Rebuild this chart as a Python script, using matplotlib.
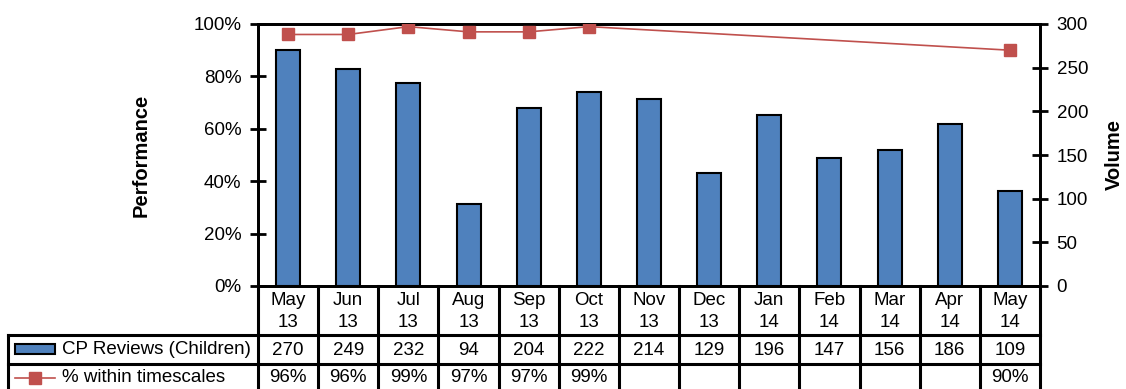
import matplotlib
matplotlib.use("Agg")
import matplotlib.pyplot as plt
from matplotlib.patches import Rectangle
from matplotlib.lines import Line2D
import numpy as np

plt.rcParams['font.family'] = ['Liberation Sans', 'DejaVu Sans']

months = ['May\n13', 'Jun\n13', 'Jul\n13', 'Aug\n13', 'Sep\n13', 'Oct\n13', 'Nov\n13',
          'Dec\n13', 'Jan\n14', 'Feb\n14', 'Mar\n14', 'Apr\n14', 'May\n14']
volume = [270, 249, 232, 94, 204, 222, 214, 129, 196, 147, 156, 186, 109]
pct = [96, 96, 99, 97, 97, 99, None, None, None, None, None, None, 90]

bar_name = 'CP Reviews (Children)'
line_name = '% within timescales'
bar_color = '#4F81BD'
line_color = '#C0504D'
fs = 13.5

W, H = 1126, 389
fig = plt.figure(figsize=(W / 100, H / 100), dpi=100)
L, R, T, B = 258, 1040, 24, 286
ax = fig.add_axes([L / W, 1 - B / H, (R - L) / W, (B - T) / H])
ax2 = ax.twinx()

x = np.arange(len(months))
ax2.bar(x, volume, width=0.4, color=bar_color, edgecolor='black', linewidth=1.5, zorder=2)
ax2.set_ylim(0, 300)
ax2.set_yticks(range(0, 301, 50))

# line drawn on top
ax.set_zorder(ax2.get_zorder() + 1)
ax.patch.set_visible(False)
px = [i for i, v in enumerate(pct) if v is not None]
py = [v for v in pct if v is not None]
ax.plot(px, py, color=line_color, linewidth=1.2, marker='s', markersize=8.5, zorder=3)
ax.set_ylim(0, 100)
ax.set_xlim(-0.5, len(months) - 0.5)
ax.set_yticks(range(0, 101, 20))
ax.set_yticklabels([f'{v}%' for v in range(0, 101, 20)])
ax.set_xticks([])
ax2.set_xticks([])

for a in (ax, ax2):
    for s in a.spines.values():
        s.set_linewidth(2)
    a.tick_params(axis='y', direction='inout', length=12, width=2, labelsize=fs, pad=6)

ax.set_ylabel('Performance', fontsize=14.5, fontweight='bold', labelpad=31)
ax2.set_ylabel('Volume', fontsize=14.5, fontweight='bold', labelpad=12)

# data table below the plot (y in pixels converted to axes fraction)
def yf(p):
    return (B - p) / (B - T)

def xf(p):
    return (p - L) / (R - L) * len(months) - 0.5

tr = ax.get_xaxis_transform()
lw = 2.2
y_head, y_r1, y_r2, y_end = B, 335, 364, 395
n = len(months)
# vertical lines
for i in range(n + 1):
    ax.add_line(Line2D([i - 0.5, i - 0.5], [yf(y_head), yf(y_end)], transform=tr,
                       color='black', lw=lw, clip_on=False))
ax.add_line(Line2D([xf(8), xf(8)], [yf(y_r1), yf(y_end)], transform=tr,
                   color='black', lw=lw, clip_on=False))
# horizontal lines
for yy in (y_r1, y_r2):
    ax.add_line(Line2D([xf(8), n - 0.5], [yf(yy), yf(yy)], transform=tr,
                       color='black', lw=lw, clip_on=False))

for i, m in enumerate(months):
    ax.text(i, yf((y_head + y_r1) / 2 + 1), m, transform=tr, ha='center', va='center',
            fontsize=fs, linespacing=1.4)
    ax.text(i, yf((y_r1 + y_r2) / 2 + 1), str(volume[i]), transform=tr,
            ha='center', va='center', fontsize=fs)
    if pct[i] is not None:
        ax.text(i, yf(378), f'{pct[i]}%', transform=tr, ha='center', va='center', fontsize=fs)

# legend keys in row headers
ax.add_patch(Rectangle((xf(15), yf(354)), xf(55) - xf(15), yf(344) - yf(354), transform=tr,
                       facecolor=bar_color, edgecolor='black', lw=1.5, clip_on=False))
ax.text(xf(62), yf(350), bar_name, transform=tr, ha='left', va='center', fontsize=fs)
ax.add_line(Line2D([xf(15), xf(55)], [yf(378), yf(378)], transform=tr, color=line_color,
                   lw=1.2, clip_on=False))
ax.add_line(Line2D([xf(35)], [yf(378)], transform=tr, color=line_color, marker='s',
                   markersize=8.5, clip_on=False))
ax.text(xf(62), yf(378), line_name, transform=tr, ha='left', va='center', fontsize=fs)

fig.savefig('out.png', dpi=100)
